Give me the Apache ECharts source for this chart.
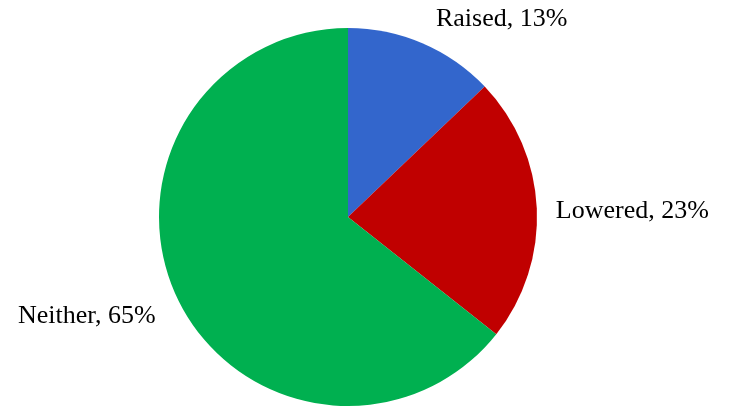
<!DOCTYPE html>
<html>
<head>
<meta charset="utf-8">
<script src="https://cdn.jsdelivr.net/npm/echarts@6/dist/echarts.min.js"></script>
<style>
  html, body { margin: 0; padding: 0; background: #ffffff; }
  #chart { width: 731px; height: 408px; }
</style>
</head>
<body>
<div id="chart"></div>
<script>
// Share of responses by outcome
const categories = ['Raised', 'Lowered', 'Neither'];
const shares = [13, 23, 65];
const colors = ['#3366CC', '#C00000', '#00B050'];

// label placement tweaks (distance from slice edge, then fine nudge)
const labelGaps = [27, 16, 27];
const labelNudge = [[-5, 1], [-5, 4], [10, 5]];

const chart = echarts.init(document.getElementById('chart'), null, { renderer: 'canvas' });

const data = categories.map((name, i) => ({
  name: name,
  value: shares[i],
  itemStyle: { color: colors[i] },
  labelLine: { show: false, length: labelGaps[i], length2: 3 }
}));

chart.setOption({
  animation: false,
  backgroundColor: '#ffffff',
  series: [{
    type: 'pie',
    center: [348, 217],
    radius: [0, 189],
    startAngle: 90,
    clockwise: true,
    avoidLabelOverlap: false,
    data: data,
    itemStyle: { borderWidth: 0 },
    emphasis: { disabled: true },
    label: {
      show: true,
      position: 'outside',
      formatter: p => p.name + ', ' + p.value + '%',
      fontFamily: '"Liberation Serif", "Times New Roman", serif',
      fontSize: 26,
      color: '#000000'
    },
    labelLine: { show: false, length: 27, length2: 3 },
    labelLayout: p => ({ dx: labelNudge[p.dataIndex][0], dy: labelNudge[p.dataIndex][1] })
  }]
});
</script>
</body>
</html>
